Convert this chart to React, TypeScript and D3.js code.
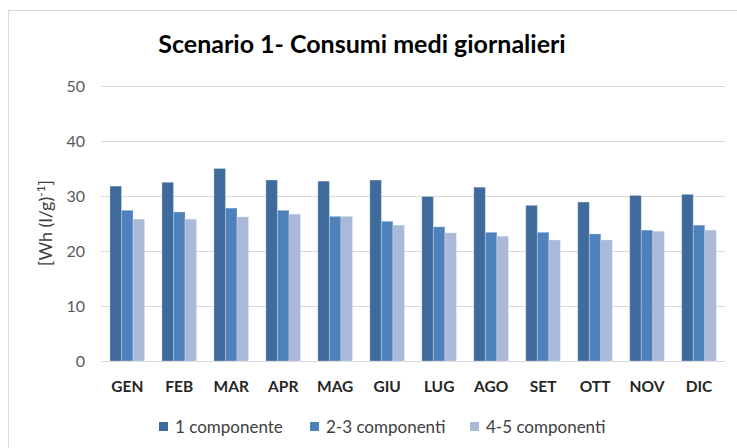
import React, { useEffect, useRef } from 'react';
import * as d3 from 'd3';

const months = ['GEN', 'FEB', 'MAR', 'APR', 'MAG', 'GIU', 'LUG', 'AGO', 'SET', 'OTT', 'NOV', 'DIC'];
const seriesNames = ['1 componente', '2-3 componenti', '4-5 componenti'];
const comp1 = [31.8, 32.5, 35.0, 32.9, 32.7, 32.9, 29.9, 31.6, 28.3, 28.9, 30.1, 30.3];
const comp23 = [27.4, 27.1, 27.8, 27.4, 26.3, 25.4, 24.4, 23.4, 23.4, 23.1, 23.8, 24.7];
const comp45 = [25.8, 25.8, 26.2, 26.7, 26.3, 24.7, 23.3, 22.7, 22.0, 22.0, 23.6, 23.8];
const yTicks = [0, 10, 20, 30, 40, 50];
const colors = ['#3F6B9C', '#4F81BD', '#AAB9D8'];

const font = 'Lato, "Open Sans", sans-serif';

const App = () => {
  const ref = useRef<SVGSVGElement>(null);

  useEffect(() => {
    const svg = d3.select(ref.current);
    svg.selectAll('*').remove();

    const W = 737, H = 448;
    const plot = { left: 101.3, right: 725, top: 86, bottom: 361 };

    // bordo del grafico
    svg.append('rect')
      .attr('x', 8.5).attr('y', 10.5)
      .attr('width', W).attr('height', H)
      .attr('fill', 'white').attr('stroke', '#d9d9d9');

    // gap width 150% come in Excel
    const x = d3.scaleBand<string>()
      .domain(months)
      .range([plot.left, plot.right])
      .paddingInner(1.5 / 4.5)
      .paddingOuter(0.75 / 4.5);

    const x1 = d3.scaleBand<number>()
      .domain([0, 1, 2])
      .range([0, x.bandwidth()]);

    const y = d3.scaleLinear().domain([0, 50]).range([plot.bottom, plot.top]);

    // griglia
    svg.append('g')
      .selectAll('line')
      .data(yTicks)
      .enter()
      .append('line')
      .attr('x1', plot.left).attr('x2', plot.right)
      .attr('y1', d => Math.round(y(d)) + 0.5)
      .attr('y2', d => Math.round(y(d)) + 0.5)
      .attr('stroke', '#d9d9d9');

    // etichette asse y
    svg.append('g')
      .selectAll('text')
      .data(yTicks)
      .enter()
      .append('text')
      .attr('x', 85)
      .attr('y', d => y(d) + 5.5)
      .attr('text-anchor', 'end')
      .attr('font-family', font)
      .attr('font-size', 16)
      .attr('fill', '#595959')
      .text(d => d);

    const series = [comp1, comp23, comp45];
    const groups = svg.append('g')
      .selectAll('g')
      .data(months)
      .enter()
      .append('g')
      .attr('transform', d => `translate(${x(d)},0)`);

    groups.selectAll('rect')
      .data((_, i) => series.map((s, k) => ({ k, v: s[i] })))
      .enter()
      .append('rect')
      .attr('x', d => x1(d.k)!)
      .attr('y', d => y(d.v))
      .attr('width', x1.bandwidth())
      .attr('height', d => y(0) - y(d.v))
      .attr('fill', d => colors[d.k])
      .attr('stroke', 'rgba(255,255,255,0.25)')
      .attr('stroke-width', 1);

    // etichette mesi
    svg.append('g')
      .selectAll('text')
      .data(months)
      .enter()
      .append('text')
      .attr('x', d => x(d)! + x.bandwidth() / 2)
      .attr('y', 392)
      .attr('text-anchor', 'middle')
      .attr('font-family', font)
      .attr('font-weight', 'bold')
      .attr('font-size', 15.5)
      .attr('fill', '#262626')
      .text(d => d);

    // titolo
    svg.append('text')
      .attr('x', 362)
      .attr('y', 53)
      .attr('text-anchor', 'middle')
      .attr('font-family', font)
      .attr('font-weight', 'bold')
      .attr('font-size', 25)
      .attr('fill', '#000')
      .text('Scenario 1- Consumi medi giornalieri');

    // titolo asse y
    const yl = svg.append('text')
      .attr('transform', 'translate(52,223) rotate(-90)')
      .attr('text-anchor', 'middle')
      .attr('font-family', font)
      .attr('font-size', 18)
      .attr('fill', '#404040');
    yl.append('tspan').text('[Wh (l/g)');
    yl.append('tspan').attr('dy', -7).attr('font-size', 12).text('-1');
    yl.append('tspan').attr('dy', 7).text(']');

    // legenda
    const legendX = [159, 310, 470];
    const leg = svg.append('g')
      .selectAll('g')
      .data(seriesNames)
      .enter()
      .append('g')
      .attr('transform', (_, i) => `translate(${legendX[i]},422)`);
    leg.append('rect')
      .attr('width', 9).attr('height', 9)
      .attr('fill', (_, i) => colors[i]);
    leg.append('text')
      .attr('x', 16).attr('y', 11)
      .attr('font-family', font)
      .attr('font-size', 17)
      .attr('fill', '#404040')
      .text(d => d);
  }, []);

  return (
    <svg ref={ref} width={737} height={448}
      style={{ position: 'absolute', left: 0, top: 0, display: 'block' }} />
  );
};

export default App;
